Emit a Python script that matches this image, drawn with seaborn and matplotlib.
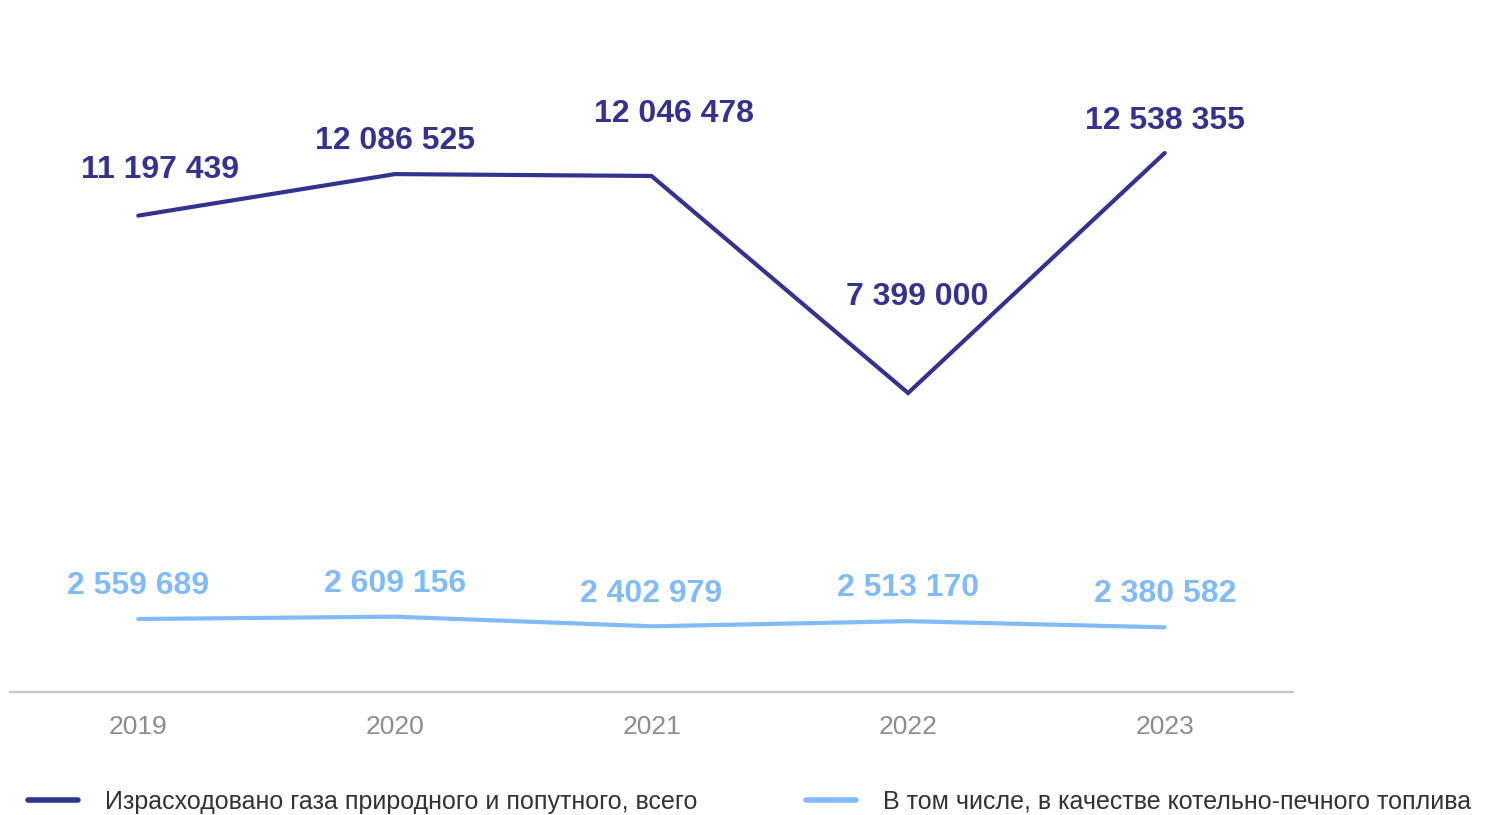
import matplotlib
matplotlib.use("Agg")
import matplotlib.pyplot as plt
import pandas
import seaborn as sns

# Chart data
years = ["2019", "2020", "2021", "2022", "2023"]
total_gas = [11197439, 12086525, 12046478, 7399000, 12538355]
boiler_fuel = [2559689, 2609156, 2402979, 2513170, 2380582]
series_names = [
    "Израсходовано газа природного и попутного, всего",
    "В том числе, в качестве котельно-печного топлива",
]

dark = "#35328f"
light = "#80bbf8"

# label offsets in pixels (dx, dy) relative to each point
total_offsets = [(22, 46), (0, 33), (23, 62), (9, 96), (0, 32)]
boiler_offsets = [(0, 33), (0, 33), (0, 32), (0, 33), (0, 33)]


def fmt(v):
    return f"{v:,}".replace(",", " ")


def main():
    sns.set_theme(style="white")
    plt.rcParams["font.family"] = ["Liberation Sans", "DejaVu Sans"]

    df = pandas.DataFrame(
        {
            "year": years * 2,
            "value": total_gas + boiler_fuel,
            "series": [series_names[0]] * len(years) + [series_names[1]] * len(years),
        }
    )

    fig = plt.figure(figsize=(15.11, 8.15), dpi=100)
    W, H = 1511, 815
    ax = fig.add_axes([10 / W, (H - 692) / H, 1283 / W, (692 - 60) / H])

    sns.lineplot(
        data=df,
        x="year",
        y="value",
        hue="series",
        palette=[dark, light],
        linewidth=3,
        ax=ax,
        legend=True,
    )
    for line in ax.lines:
        line.set_solid_capstyle("round")
        line.set_solid_joinstyle("miter")

    ax.set_xlim(-0.5, 4.5)
    ax.set_ylim(996209, 14529857)

    for i, (v, off) in enumerate(zip(total_gas, total_offsets)):
        ax.annotate(
            fmt(v), (i, v), xytext=(off[0] * 0.72, off[1] * 0.72),
            textcoords="offset points", ha="center", va="center",
            fontsize=23, fontweight="bold", color=dark,
        )
    for i, (v, off) in enumerate(zip(boiler_fuel, boiler_offsets)):
        ax.annotate(
            fmt(v), (i, v), xytext=(off[0] * 0.72, off[1] * 0.72),
            textcoords="offset points", ha="center", va="center",
            fontsize=23, fontweight="bold", color=light,
        )

    for side in ["top", "right", "left"]:
        ax.spines[side].set_visible(False)
    ax.spines["bottom"].set_color("#c8c8c8")
    ax.spines["bottom"].set_linewidth(1.6)
    ax.set_yticks([])
    ax.set_xlabel("")
    ax.set_ylabel("")
    ax.tick_params(axis="x", length=0, pad=16.5, labelsize=19, labelcolor="#8c8c8c")

    handles, labels = ax.get_legend_handles_labels()
    ax.legend(
        handles, labels, loc="center left",
        bbox_to_anchor=(28 / W, 13 / H), bbox_transform=fig.transFigure,
        ncol=2, frameon=False, fontsize=18, handlelength=2.0,
        handletextpad=1.08, columnspacing=4.36, labelcolor="#333333",
        borderaxespad=0, borderpad=0,
    )
    for h in ax.get_legend().legend_handles:
        h.set_linewidth(4)

    fig.savefig("out.png", dpi=100)


if __name__ == "__main__":
    main()
